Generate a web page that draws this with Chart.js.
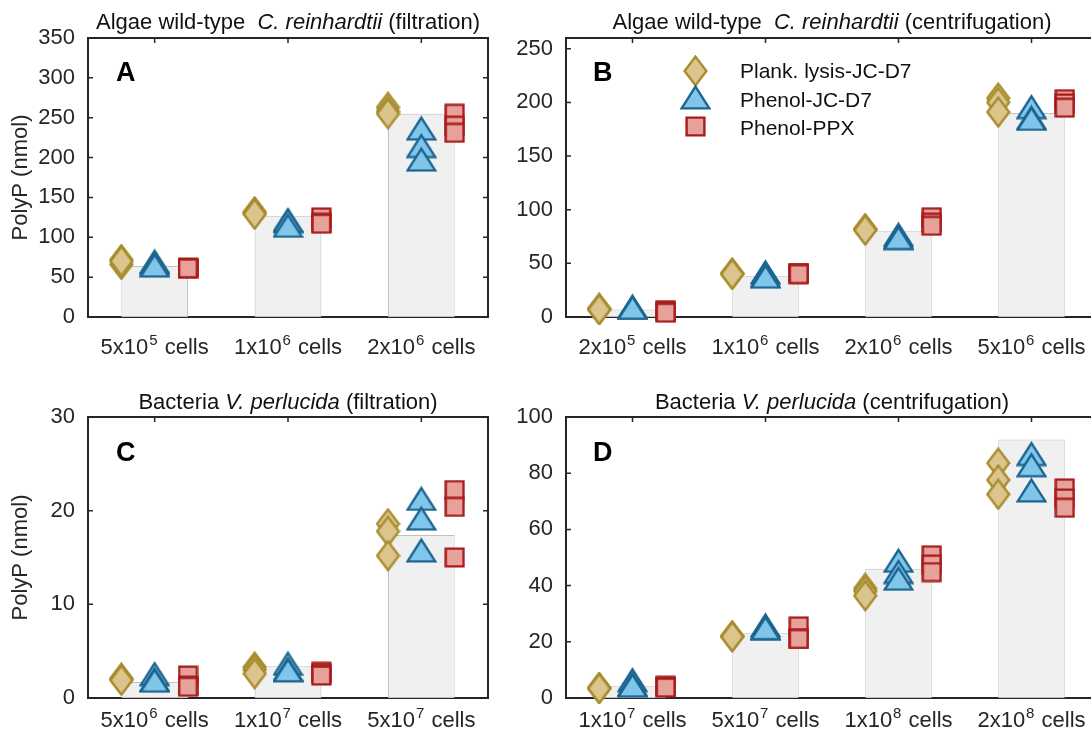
<!DOCTYPE html>
<html>
<head>
<meta charset="utf-8">
<script src="https://cdn.jsdelivr.net/npm/chart.js@4.4.1/dist/chart.umd.min.js"></script>
<style>
  body { margin: 0; background: #fff; width: 1091px; height: 737px; position: relative; overflow: hidden;
         font-family: "Liberation Sans", Arial, sans-serif; }
  canvas { position: absolute; }
  .ttl { position: absolute; font-size: 22px; line-height: 22px; color: #111; text-align: center; white-space: pre; }
  .lbl { position: absolute; font-size: 27px; line-height: 27px; font-weight: bold; color: #000; }
  .leg { position: absolute; font-size: 21px; line-height: 21px; color: #111; white-space: nowrap; }
  .mk { position: absolute; }
</style>
</head>
<body>
<canvas id="cA" width="500" height="370" style="left:0;top:0"></canvas>
<canvas id="cB" width="600" height="370" style="left:500px;top:0"></canvas>
<canvas id="cC" width="500" height="367" style="left:0;top:370px"></canvas>
<canvas id="cD" width="600" height="367" style="left:500px;top:370px"></canvas>

<div class="ttl" style="left:88px;width:400px;top:11px">Algae wild-type  <i>C. reinhardtii</i> (filtration)</div>
<div class="ttl" style="left:566px;width:532px;top:11px">Algae wild-type  <i>C. reinhardtii</i> (centrifugation)</div>
<div class="ttl" style="left:88px;width:400px;top:391px">Bacteria <i>V. perlucida</i> (filtration)</div>
<div class="ttl" style="left:566px;width:532px;top:391px">Bacteria <i>V. perlucida</i> (centrifugation)</div>

<div class="lbl" style="left:116px;top:59px">A</div>
<div class="lbl" style="left:593px;top:59px">B</div>
<div class="lbl" style="left:116px;top:439px">C</div>
<div class="lbl" style="left:593px;top:439px">D</div>

<div class="leg" style="left:740px;top:60px">Plank. lysis-JC-D7</div>
<div class="leg" style="left:740px;top:89px">Phenol-JC-D7</div>
<div class="leg" style="left:740px;top:117px">Phenol-PPX</div>

<script>
// 系列名
const seriesNames = ['Plank. lysis-JC-D7', 'Phenol-JC-D7', 'Phenol-PPX'];

// A: 藻類 ろ過
const catsA = ['5x10⁵ cells', '1x10⁶ cells', '2x10⁶ cells'];
const barA = [64, 127, 255];
const plankA = [[72, 66, 70], [132, 130, 129], [263, 258, 255]];
const phenolA = [[70, 68, 65], [122, 121, 115], [237, 215, 198]];
const ppxA = [[62, 61, 61], [125, 118, 117], [255, 240, 231]];

// B: 藻類 遠心
const catsB = ['2x10⁵ cells', '1x10⁶ cells', '2x10⁶ cells', '5x10⁶ cells'];
const barB = [7, 38, 80, 190];
const plankB = [[8, 7, 7], [41, 40, 40], [82, 82, 81], [204, 200, 191]];
const phenolB = [[10, 9, 9], [42, 39, 38], [77, 75, 74], [196, 186, 185]];
const ppxB = [[6.5, 5, 4], [41, 41, 40], [93, 88, 85], [203, 199, 195]];

// C: 細菌 ろ過
const catsC = ['5x10⁶ cells', '1x10⁷ cells', '5x10⁷ cells'];
const barC = [1.7, 3.4, 17.4];
const plankC = [[2.1, 2.0, 1.9], [3.3, 3.0, 2.6], [18.6, 17.8, 15.2]];
const phenolC = [[2.6, 2.0, 1.9], [3.7, 3.1, 3.0], [21.3, 19.2, 15.8]];
const ppxC = [[2.4, 1.3, 1.2], [2.8, 2.6, 2.4], [22.2, 20.4, 15.0]];

// D: 細菌 遠心
const catsD = ['1x10⁷ cells', '5x10⁷ cells', '1x10⁸ cells', '2x10⁸ cells'];
const barD = [4.2, 23, 46, 92];
const plankD = [[3.7, 3.5, 3.4], [22, 22, 21.8], [39, 38, 36.4], [83.6, 77.6, 72.5]];
const phenolD = [[6.5, 5, 4.6], [26, 25, 25], [49, 45, 42.6], [87, 83, 74]];
const ppxD = [[4.3, 4, 3.7], [25.5, 21, 21], [50.8, 47.5, 44.8], [74.6, 71, 67.7]];

const FONT = 'Liberation Sans';
const AXIS = '#262626';

// マーカー画像を作る
function makeMarker(shape, fill, stroke) {
    const size = { diamond: [25, 32], triangle: [31, 26], square: [21, 21] }[shape];
    const c = document.createElement('canvas');
    c.width = size[0];
    c.height = size[1];
    const g = c.getContext('2d');
    const w = size[0], h = size[1], m = 1.6;
    g.beginPath();
    if (shape === 'diamond') {
        g.moveTo(w / 2, m); g.lineTo(w - m, h / 2); g.lineTo(w / 2, h - m); g.lineTo(m, h / 2);
    } else if (shape === 'triangle') {
        g.moveTo(w / 2, m + 1); g.lineTo(w - m, h - m); g.lineTo(m, h - m);
    } else {
        g.rect(m, m, w - 2 * m, h - 2 * m);
    }
    g.closePath();
    g.fillStyle = fill;
    g.fill();
    g.lineWidth = 2.4;
    g.lineJoin = 'miter';
    g.strokeStyle = stroke;
    g.stroke();
    return c;
}

const markers = [
    makeMarker('diamond', '#dbc58c', '#a88c2d'),
    makeMarker('triangle', '#80c6ea', '#1c6591'),
    makeMarker('square', '#e6a19b', '#a81b1b')
];

// 凡例のマーカー
[71, 97, 126].forEach((cy, i) => {
    const img = document.createElement('img');
    img.src = markers[i].toDataURL();
    img.className = 'mk';
    img.style.left = (695 - markers[i].width / 2) + 'px';
    img.style.top = (cy - markers[i].height / 2) + 'px';
    document.body.appendChild(img);
});

// 反復値を x 位置付きの点にする
function points(vals, off) {
    const out = [];
    vals.forEach((reps, i) => reps.forEach(v => out.push({ x: i + 1 + off, y: v })));
    return out;
}

// 枠と内向きの目盛り
const boxPlugin = {
    id: 'box',
    beforeDatasetsDraw(chart) {
        const { ctx, chartArea: a, scales: { x, y } } = chart;
        ctx.save();
        ctx.strokeStyle = AXIS;
        ctx.lineWidth = 1.5;
        y.ticks.forEach(t => {
            const p = y.getPixelForValue(t.value);
            ctx.beginPath();
            ctx.moveTo(a.left, p); ctx.lineTo(a.left + 5, p);
            ctx.moveTo(a.right, p); ctx.lineTo(a.right - 5, p);
            ctx.stroke();
        });
        x.ticks.forEach(t => {
            const p = x.getPixelForValue(t.value);
            ctx.beginPath();
            ctx.moveTo(p, a.top); ctx.lineTo(p, a.top + 5);
            ctx.moveTo(p, a.bottom); ctx.lineTo(p, a.bottom - 5);
            ctx.stroke();
        });
        ctx.lineWidth = 2;
        ctx.strokeRect(a.left, a.top, a.right - a.left, a.bottom - a.top);
        ctx.restore();
    }
};

// x 目盛りラベル（上付き数字を大きめに描く）
const supDigits = '⁰¹²³⁴⁵⁶⁷⁸⁹';
const supPlugin = {
    id: 'sup',
    afterDraw(chart) {
        const { ctx, chartArea: a, scales: { x } } = chart;
        const base = a.bottom + chart.options.plugins.sup.offset;
        ctx.save();
        ctx.fillStyle = AXIS;
        ctx.textBaseline = 'alphabetic';
        ctx.textAlign = 'left';
        x.ticks.forEach(t => {
            const text = t.label;
            const runs = [];
            for (const ch of text) {
                const k = supDigits.indexOf(ch);
                const sup = k >= 0;
                const c = sup ? String(k) : ch;
                if (runs.length && runs[runs.length - 1].sup === sup) runs[runs.length - 1].t += c;
                else runs.push({ t: c, sup });
            }
            let total = 0;
            runs.forEach(r => {
                ctx.font = (r.sup ? 15 : 22) + 'px "' + FONT + '"';
                r.w = ctx.measureText(r.t).width + (r.sup ? 2 : 0);
                total += r.w;
            });
            let cx = x.getPixelForValue(t.value) - total / 2;
            runs.forEach(r => {
                ctx.font = (r.sup ? 15 : 22) + 'px "' + FONT + '"';
                ctx.fillText(r.t, cx + (r.sup ? 1 : 0), r.sup ? base - 9 : base);
                cx += r.w;
            });
        });
        ctx.restore();
    }
};

function makePanel(id, cats, bars, plank, phenol, ppx, p) {
    const scatter = (vals, off, i) => ({
        type: 'scatter',
        label: seriesNames[i],
        data: points(vals, off),
        pointStyle: markers[i],
        pointRadius: 12,
        order: 3 - i,
        clip: false
    });
    new Chart(document.getElementById(id), {
        type: 'bar',
        data: {
            datasets: [
                scatter(plank, -0.25, 0),
                scatter(phenol, 0, 1),
                scatter(ppx, 0.25, 2),
                {
                    type: 'bar',
                    data: bars.map((v, i) => ({ x: i + 1, y: v })),
                    backgroundColor: '#f0f0f0',
                    borderColor: '#c2c2c2',
                    borderWidth: 1,
                    borderSkipped: false,
                    barPercentage: 0.5,
                    categoryPercentage: 1,
                    order: 4
                }
            ]
        },
        options: {
            responsive: false,
            animation: false,
            events: [],
            layout: { autoPadding: false, padding: { top: p.top, right: p.right, left: 0, bottom: 0 } },
            plugins: { legend: { display: false }, tooltip: { enabled: false }, sup: { offset: p.base } },
            scales: {
                x: {
                    type: 'linear',
                    min: 0.5,
                    max: cats.length + 0.5,
                    offset: false,
                    grid: { display: false, drawTicks: false },
                    border: { display: false },
                    afterBuildTicks: s => { s.ticks = cats.map((c, i) => ({ value: i + 1 })); },
                    afterFit: s => { s.height = p.xh; s.paddingLeft = 0; s.paddingRight = 0; },
                    ticks: {
                        callback: v => cats[v - 1],
                        padding: 0,
                        color: 'rgba(0,0,0,0)',
                        font: { family: FONT, size: 22 },
                        autoSkip: false,
                        maxRotation: 0
                    }
                },
                y: {
                    min: 0,
                    max: p.yMax,
                    grid: { display: false, drawTicks: false },
                    border: { display: false },
                    afterFit: s => { s.width = p.yw; },
                    ticks: {
                        stepSize: p.step,
                        includeBounds: false,
                        padding: 13,
                        color: AXIS,
                        font: { family: FONT, size: 22 }
                    },
                    title: {
                        display: p.yTitle,
                        text: 'PolyP (nmol)',
                        color: AXIS,
                        font: { family: FONT, size: 22 },
                        padding: { top: 8, bottom: 0 }
                    }
                }
            }
        },
        plugins: [boxPlugin, supPlugin]
    });
}

makePanel('cA', catsA, barA, plankA, phenolA, ppxA,
    { top: 38, right: 12, xh: 53, yw: 88, base: 37, yMax: 350, step: 50, yTitle: true });
makePanel('cB', catsB, barB, plankB, phenolB, ppxB,
    { top: 38, right: 2, xh: 53, yw: 66, base: 37, yMax: 260, step: 50, yTitle: false });
makePanel('cC', catsC, barC, plankC, phenolC, ppxC,
    { top: 47, right: 12, xh: 39, yw: 88, base: 29, yMax: 30, step: 10, yTitle: true });
makePanel('cD', catsD, barD, plankD, phenolD, ppxD,
    { top: 47, right: 2, xh: 39, yw: 66, base: 29, yMax: 100, step: 20, yTitle: false });
</script>
</body>
</html>
